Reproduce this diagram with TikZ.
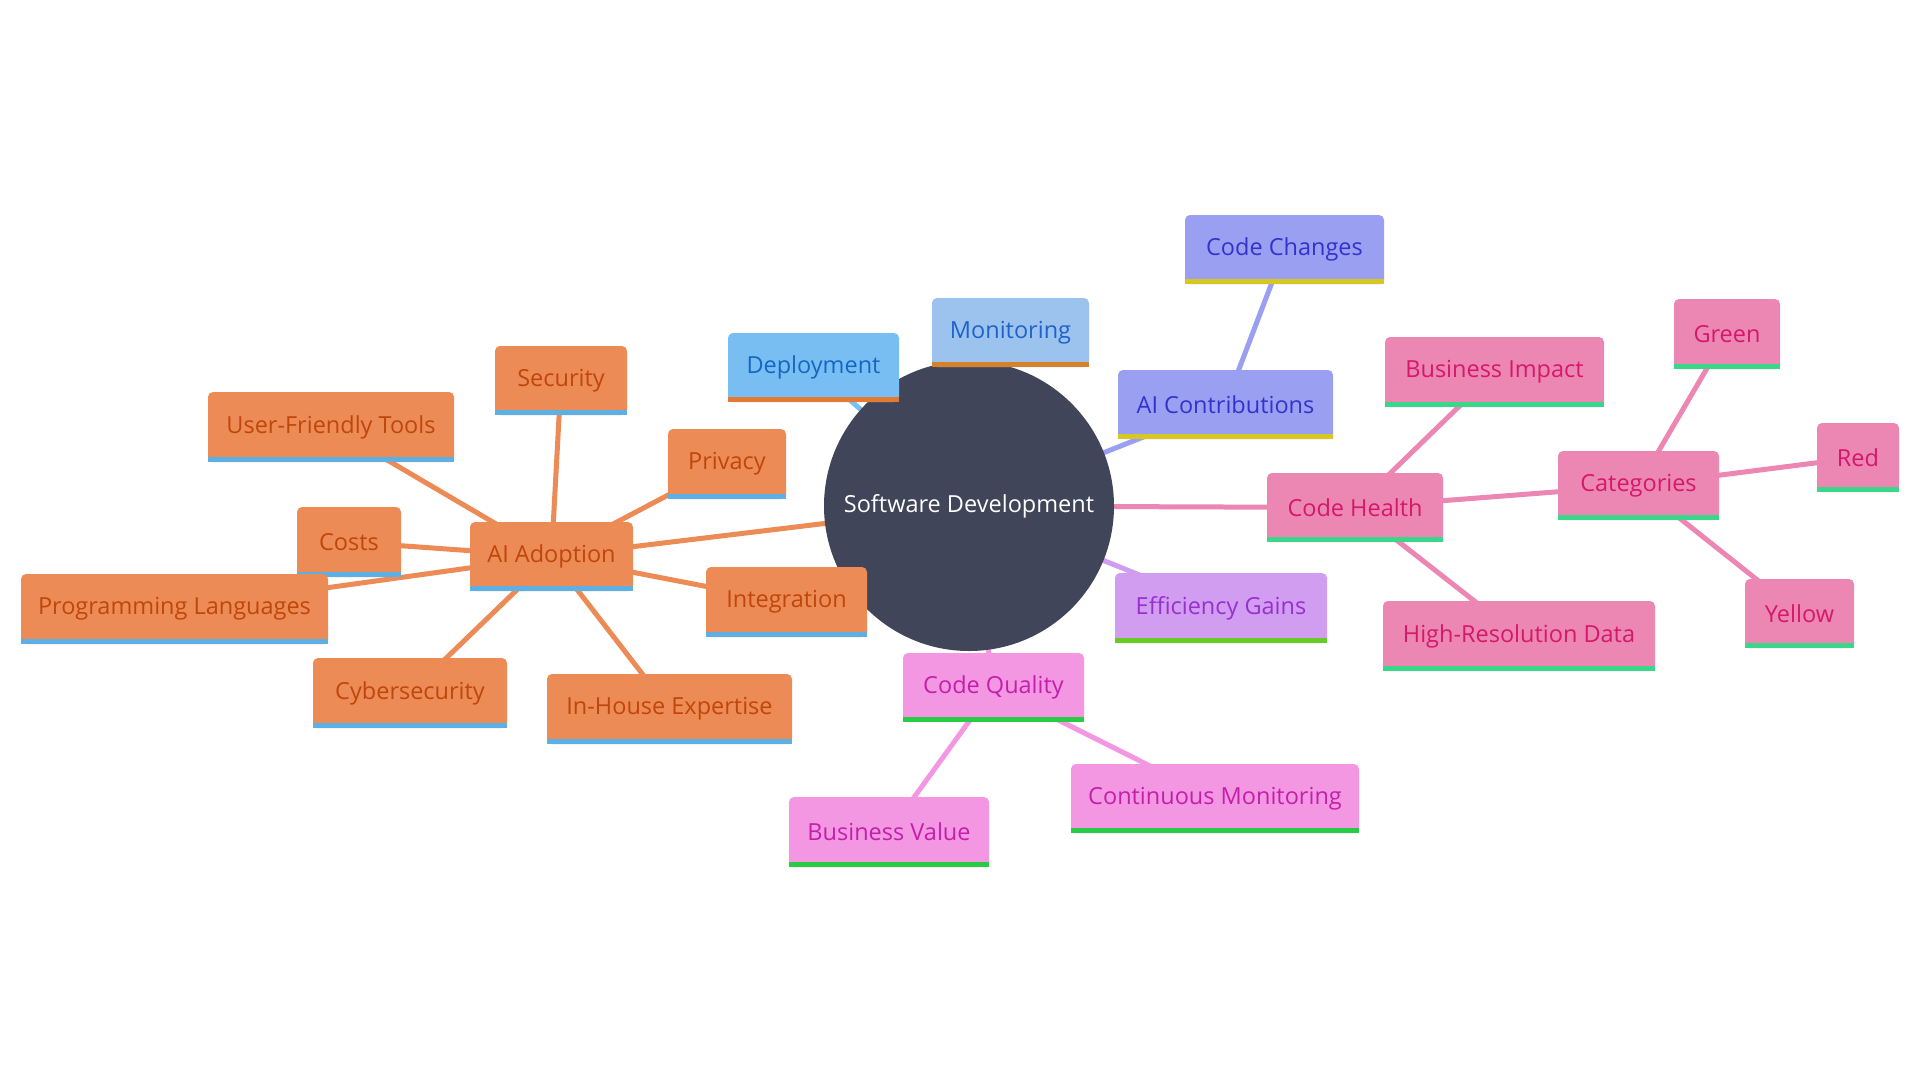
\documentclass[tikz,border=0pt]{standalone}
\usepackage{fontspec}
\setmainfont{Open Sans}
\pgfdeclarelayer{bg}
\pgfdeclarelayer{edges}
\pgfdeclarelayer{fills}
\pgfsetlayers{bg,edges,fills,main}
\definecolor{orfill}{HTML}{EC8B55}\definecolor{ortxt}{HTML}{C0470B}\definecolor{orstr}{HTML}{5DB0E5}
\definecolor{depfill}{HTML}{79BEF2}\definecolor{deptxt}{HTML}{1468C4}\definecolor{depstr}{HTML}{E5792F}
\definecolor{monfill}{HTML}{9CC3EE}\definecolor{montxt}{HTML}{1E62CC}\definecolor{monstr}{HTML}{D6822A}
\definecolor{aicfill}{HTML}{9A9FF2}\definecolor{aictxt}{HTML}{3333CC}\definecolor{aicstr}{HTML}{D6C820}
\definecolor{chfill}{HTML}{EC87B4}\definecolor{chtxt}{HTML}{D6176A}\definecolor{chstr}{HTML}{3AD68A}
\definecolor{efffill}{HTML}{D09DF0}\definecolor{efftxt}{HTML}{9A2FD0}\definecolor{effstr}{HTML}{66CC22}
\definecolor{cqfill}{HTML}{F497E3}\definecolor{cqtxt}{HTML}{C41FAA}\definecolor{cqstr}{HTML}{26CC44}
\definecolor{rootfill}{HTML}{414559}
\newcommand\mmfont{\fontsize{23.5}{27}\selectfont}
\tikzset{
  mm/.style={inner sep=0pt, font=\mmfont},
  link/.style={line width=5pt},
}
% name, x1, y1, x2, y2, group, text
\newcommand\mmnode[7]{%
  \node[mm, text=#6txt, minimum width={(#4-#2)*1pt}, minimum height={(#5-#3-5)*1pt}]
    (#1) at ({(#2+#4)/2},{(#3+#5-5)/2+2.5}) {#7};
  \begin{pgfonlayer}{fills}
    \fill[#6fill, rounded corners=5pt] (#2,#5) rectangle (#4,#3);
    \fill[#6str] (#2,#5-5) rectangle (#4,#5);
  \end{pgfonlayer}%
}
\begin{document}
\begin{tikzpicture}[x=1pt,y=-1pt]
\begin{pgfonlayer}{bg}
\fill[white] (0,0) rectangle (1920,1080);
\end{pgfonlayer}
\useasboundingbox (0,0) rectangle (1920,1080);
\begin{pgfonlayer}{fills}
\node[circle, fill=rootfill, text=white, font=\mmfont, minimum size=290pt, inner sep=0pt] (root) at (969,506) {Software Development};
\end{pgfonlayer}
% orange branch
\mmnode{sec}{495}{346}{627}{415}{or}{Security}
\mmnode{uft}{208}{392}{454}{462}{or}{User-Friendly Tools}
\mmnode{priv}{668}{429}{786}{499}{or}{Privacy}
\mmnode{costs}{297}{507}{401}{577}{or}{Costs}
\mmnode{aia}{470}{522}{633}{591}{or}{AI Adoption}
\mmnode{pl}{21}{574}{328}{644}{or}{Programming Languages}
\mmnode{integ}{706}{567}{867}{637}{or}{Integration}
\mmnode{cyber}{313}{658}{507}{728}{or}{Cybersecurity}
\mmnode{ihe}{547}{674}{792}{744}{or}{In-House Expertise}
% blue
\mmnode{dep}{728}{333}{899}{402}{dep}{Deployment}
\mmnode{mon}{932}{298}{1089}{367}{mon}{Monitoring}
% violet-blue
\mmnode{aic}{1118}{370}{1333}{439}{aic}{AI Contributions}
\mmnode{cc}{1185}{215}{1384}{284}{aic}{Code Changes}
% pink
\mmnode{ch}{1267}{473}{1443}{542}{ch}{Code Health}
\mmnode{bi}{1385}{337}{1604}{407}{ch}{Business Impact}
\mmnode{cat}{1558}{451}{1719}{520}{ch}{Categories}
\mmnode{green}{1674}{299}{1780}{369}{ch}{Green}
\mmnode{red}{1817}{423}{1899}{492}{ch}{Red}
\mmnode{hrd}{1383}{601}{1655}{671}{ch}{High-Resolution Data}
\mmnode{yellow}{1745}{579}{1854}{648}{ch}{Yellow}
% efficiency
\mmnode{eff}{1115}{573}{1327}{643}{eff}{Efficiency Gains}
% code quality
\mmnode{cq}{903}{653}{1084}{722}{cq}{Code Quality}
\mmnode{bv}{789}{797}{989}{867}{cq}{Business Value}
\mmnode{cm}{1071}{764}{1359}{833}{cq}{Continuous Monitoring}
% edges
\begin{pgfonlayer}{edges}
\draw[link, orfill] (root.center) -- (aia.center);
\foreach \n in {sec,uft,priv,costs,pl,integ,cyber,ihe}
  \draw[link, orfill] (aia.center) -- (\n.center);
\draw[link, depfill] (root.center) -- (dep.center);
\draw[link, monfill] (root.center) -- (mon.center);
\draw[link, aicfill] (root.center) -- (aic.center);
\draw[link, aicfill] (aic.center) -- (cc.center);
\draw[link, chfill] (root.center) -- (ch.center);
\foreach \n in {bi,cat,hrd}
  \draw[link, chfill] (ch.center) -- (\n.center);
\foreach \n in {green,red,yellow}
  \draw[link, chfill] (cat.center) -- (\n.center);
\draw[link, efffill] (root.center) -- (eff.center);
\draw[link, cqfill] (root.center) -- (cq.center);
\draw[link, cqfill] (cq.center) -- (bv.center);
\draw[link, cqfill] (cq.center) -- (cm.center);
\end{pgfonlayer}
\end{tikzpicture}
\end{document}
